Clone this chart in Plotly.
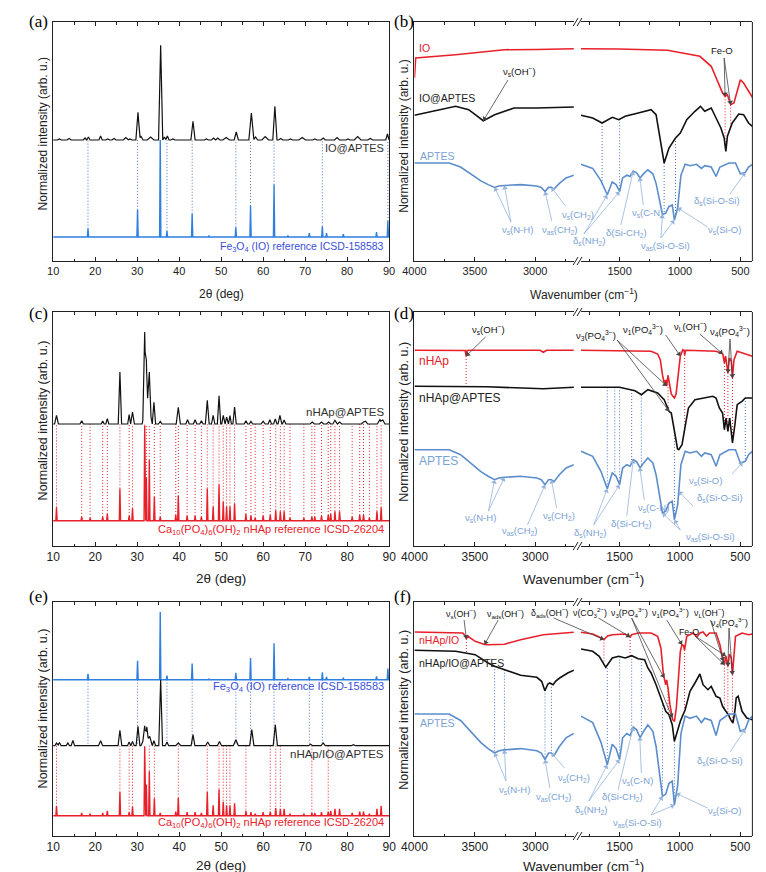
import numpy as np
import plotly.graph_objects as go

# ---------------- XRD reference patterns (2theta, relative intensity %) ----------------
io_ref_pos = [18.3, 30.1, 35.5, 37.1, 43.1, 47.1, 53.5, 57.0, 62.6, 65.9, 71.0, 74.1, 75.1, 79.1, 87.0, 89.7]
io_ref_rel = [8.6, 28, 100, 6, 24, 1, 10, 32, 54, 1.5, 4, 11, 4, 3, 5, 16.5]

hap_ref_pos = [10.8, 16.8, 18.8, 21.8, 22.9, 25.9, 28.1, 28.9, 31.8, 32.2, 32.9, 34.1, 35.5, 39.2, 39.8, 41.9,
               43.8, 45.3, 46.7, 48.1, 49.5, 50.5, 51.3, 52.1, 53.2, 55.9, 57.1, 58.1, 60.0, 61.7, 63.0, 64.1,
               65.0, 66.4, 69.7, 71.6, 72.3, 73.9, 75.5, 76.1, 77.1, 78.2, 81.2, 83.0, 83.9, 85.3, 87.1, 88.1]
hap_ref_rel = [14, 4, 3, 4, 7, 34, 5, 13, 100, 45, 64, 25, 4, 6, 26, 5,
               5, 4, 34, 15, 38, 20, 15, 15, 18, 7, 5, 3, 5, 6, 11, 10,
               10, 3, 3, 4, 4, 5, 6, 7, 10, 10, 4, 6, 6, 3, 10, 14]

# ---------------- measured XRD: peak position, height above baseline, half width ----------------
a_pk_pos = [11.5, 13.8, 17.6, 18.4, 21.3, 23.0, 24.5, 27.3, 28.3, 30.2, 30.9, 33.2, 35.6, 36.5, 37.2, 38.5,
            43.3, 46.5, 48.2, 49.2, 51.2, 53.6, 57.2, 58.2, 60.5, 62.8, 64.2, 66.5, 69.3, 72.3, 74.3, 77.6,
            80.2, 82.5, 85.5, 89.6]
a_pk_h = [1, 1.5, 2, 3, 4, 1, 1.5, 2.5, 1, 27.7, 4, 3, 94.7, 3, 4, 1,
          18.7, 1, 2, 2, 2.5, 8, 27, 3, 3.5, 33.7, 1.5, 1, 2.5, 1, 2, 2.5,
          1, 3.5, 1.5, 6]
a_pk_w = [0.5, 0.5, 0.4, 0.4, 0.4, 0.5, 0.5, 0.6, 0.5, 0.5, 0.5, 0.8, 0.5, 0.4, 0.4, 0.5,
          0.5, 0.5, 0.5, 0.5, 0.8, 0.5, 0.6, 0.5, 0.8, 0.5, 0.5, 0.5, 0.8, 0.5, 0.5, 0.6,
          0.5, 0.8, 0.6, 0.4]
a_io_marks = [18.3, 30.1, 37.1, 43.1, 53.5, 57.0, 62.6, 74.1, 89.7]

c_pk_pos = [10.8, 16.8, 21.8, 22.9, 25.9, 28.1, 28.9, 31.8, 32.2, 32.4, 32.9, 34.0, 35.5, 39.8, 42.0, 43.8,
            45.3, 46.7, 48.1, 49.5, 50.5, 51.3, 52.1, 53.2, 55.9, 57.1, 60.0, 61.6, 62.9, 64.0, 65.0, 71.7,
            73.9, 75.6, 77.1, 78.2, 83.9, 84.4, 87.8, 88.5]
c_pk_h = [8.7, 3.3, 3, 5.3, 52, 9.3, 12, 92, 64, 28, 52, 21.7, 2.7, 16.7, 4.3, 4.3,
          3.3, 23.7, 8.7, 28.3, 8.7, 7, 8.3, 17, 3.3, 2.7, 2.7, 4.3, 5, 8.7, 4, 2,
          2, 2, 3.7, 2, 2, 2.7, 4.3, 4]
c_pk_w = [0.45, 0.4, 0.35, 0.35, 0.4, 0.35, 0.45, 0.45, 0.3, 1.2, 0.4, 0.4, 0.4, 0.5, 0.4, 0.4,
          0.4, 0.45, 0.4, 0.4, 0.35, 0.35, 0.35, 0.4, 0.4, 0.4, 0.5, 0.4, 0.4, 0.45, 0.4, 0.5,
          0.5, 0.5, 0.5, 0.5, 0.5, 0.5, 0.6, 0.5]

e_pk_pos = [10.8, 11.5, 13.5, 14.7, 21.3, 25.9, 28.1, 28.9, 30.2, 31.8, 32.2, 32.3, 33.0, 34.0, 35.6, 37.1,
            39.8, 43.3, 46.8, 49.6, 53.5, 57.3, 62.9, 71.3, 74.3, 81.5]
e_pk_h = [2.7, 3.3, 2.7, 5.3, 5, 15.3, 3.7, 4.3, 19.3, 20, 12, 19, 9.3, 5, 66, 3.7,
          2.7, 11, 3.7, 4.3, 6, 16, 21, 1.5, 2.7, 1]
e_pk_w = [0.4, 0.4, 0.4, 0.4, 0.5, 0.45, 0.4, 0.4, 0.45, 0.45, 1.3, 0.4, 0.4, 0.4, 0.45, 0.4,
          0.6, 0.45, 0.5, 0.5, 0.6, 0.5, 0.5, 0.5, 0.5, 0.5]

e_io_marks = [18.3, 30.1, 37.1, 43.1, 53.5, 57.0, 62.6, 71.0, 74.1]
e_hap_marks = [10.8, 25.9, 28.1, 28.9, 32.9, 34.1, 39.8, 46.7, 49.5, 50.5, 51.3, 52.1, 55.9, 61.7, 63.0,
               64.1, 71.6, 75.5]

# ---------------- FTIR spectra (cm-1, plot units) ----------------
aptes_wn = [4000, 3712, 3618, 3524, 3450, 3390, 3336, 3300, 3255, 3121, 2987, 2950, 2919, 2890, 2866, 2845,
            2800, 2745, 2680,
            1820, 1723, 1655, 1602, 1561, 1529, 1500, 1475, 1440, 1413, 1387, 1360, 1330, 1306, 1266, 1225,
            1198, 1172, 1145, 1118, 1091, 1064, 1046, 1019, 992, 957, 917, 863, 822, 795, 741, 701, 669,
            594, 540, 500, 459, 432, 400]
aptes_t = [0, 0, -5, -15, -22, -26.6, -30, -28.3, -27.6, -26.6, -28.3, -30, -35, -30, -30, -32,
           -25, -18.3, -15,
           -1.6, -6.6, -21.6, -39, -23.3, -26.6, -35, -18.3, -15, -16.6, -10, -12, -18.3, -14, -8.3, -13.3,
           -25, -45, -63.3, -61.6, -53.3, -51.6, -70, -55, -15, -1.6, -3.3, -1.6, -6.6, -3.3, -5, -16.6, -5,
           0, 0, -13.3, -11.6, -5, -1.6]

io_wn = [4000, 3990, 3660, 3255, 2987, 2680, 1820, 1507, 1104, 835, 741, 688, 647, 626, 607, 580, 553,
         526, 499, 473, 432, 400]
io_v = [183, 203, 206.3, 211.3, 211.5, 212.3, 212.3, 212, 210.7, 204.7, 194.7, 179.7, 168, 164.7, 166.3,
        156.3, 158, 169.7, 181.3, 178, 169.7, 163.7]

ioa_wn = [4000, 3793, 3659, 3551, 3430, 3336, 3175, 2987, 2680, 1820, 1723, 1645, 1561, 1507, 1454, 1346,
          1239, 1198, 1172, 1131, 1091, 1037, 997, 944, 876, 830, 795, 741, 701, 661, 634, 620, 607, 567,
          513, 473, 432, 400]
ioa_v = [145.7, 151.3, 154.7, 151.3, 140.3, 146.3, 153, 153, 154, 145.7, 143, 138, 143.7, 141.3, 144.7, 148,
         151.3, 146.3, 126.3, 98, 113, 123, 128, 141.3, 149.7, 154.7, 149.7, 153, 143, 133, 123, 109.7,
         124.7, 138, 147, 146.3, 138, 134.7]

hap_wn = [4000, 3600, 3580, 3572, 3564, 3540, 2960, 2933, 2905, 2680, 1820, 1346, 1239, 1185, 1163, 1145,
          1131, 1118, 1110, 1099, 1083, 1072, 1060, 1046, 1032, 1020, 1010, 997, 976, 966, 961, 955, 943,
          809, 701, 661, 645, 632, 622, 603, 590, 575, 565, 553, 526, 400]
hap_v = [195.7, 195.7, 195.5, 190, 195.5, 195.7, 195.7, 193.7, 195.7, 195.7, 195.7, 195.3, 194.7, 192,
         186.3, 171.3, 163, 166, 160, 170.7, 160, 152, 150, 148, 152, 165, 178, 190, 196.3, 195.5, 191,
         195.5, 195.7, 195.3, 194.7, 193, 192, 183, 190, 173, 188, 185, 168, 186, 194.7, 189.7]

hapa_wn = [4000, 3400, 2933, 2680, 1820, 1500, 1373, 1319, 1266, 1185, 1131, 1091, 1072, 1051, 1030, 1020,
           1010, 983, 957, 930, 876, 809, 728, 701, 674, 647, 632, 618, 603, 588, 565, 545, 526, 486, 459, 400]
hapa_v = [159.7, 159.2, 157.3, 158.7, 158.7, 158.7, 155.3, 151.3, 156.3, 153, 146.3, 134.7, 133, 118, 101.3,
          97, 96.3, 101.3, 119.7, 138, 146.3, 148, 149.7, 148, 138, 133, 116.3, 128, 114.7, 128, 103,
          121.3, 141.3, 144.7, 148, 148]

nio_wn = [4000, 3659, 3600, 3578, 3570, 3560, 3497, 3420, 3390, 3255, 3121, 2933, 2680, 1820, 1723, 1669,
          1645, 1630, 1600, 1561, 1454, 1420, 1413, 1400, 1346, 1239, 1185, 1158, 1137, 1118, 1110, 1099,
          1083, 1061, 1046, 1030, 1010, 997, 983, 970, 962, 955, 944, 890, 860, 835, 809, 780, 755, 701,
          669, 647, 632, 620, 603, 590, 575, 565, 553, 540, 486, 432, 400]
nio_v = [204, 203.7, 203, 200, 197, 200, 194.7, 191.5, 191.3, 191.8, 196.3, 201.3, 203.7, 203.7, 202, 199,
         197, 196.5, 200, 201.3, 202, 200, 199, 201.3, 203, 203, 199.7, 188, 161.3, 151.3, 156, 148,
         131.3, 116.3, 114.7, 128, 158, 184.7, 191.3, 190.5, 186, 190, 199.7, 203, 199, 203, 204, 200,
         203, 203, 191.3, 178, 171.3, 180, 169.7, 182, 178, 161.3, 178, 199.7, 203, 201.3, 202]

nia_wn = [4000, 3659, 3497, 3390, 3336, 3255, 3121, 2987, 2947, 2920, 2895, 2879, 2852, 2830, 2798, 2731,
          2680, 1820, 1723, 1669, 1615, 1561, 1507, 1454, 1400, 1346, 1293, 1266, 1239, 1198, 1158, 1118,
          1091, 1064, 1046, 1024, 997, 957, 917, 876, 835, 809, 768, 741, 701, 669, 647, 620, 599, 580,
          561, 545, 534, 518, 486, 446, 400]
nia_v = [185.7, 184.7, 181.3, 173, 169.7, 166.3, 160.7, 158.7, 154.7, 145.3, 152, 153, 151.3, 155, 158, 163,
         165.7, 187, 184.7, 179.7, 168.7, 178, 179.7, 178, 180.3, 177.3, 176.3, 168, 163, 151.3, 138, 124.7,
         121.3, 111.3, 94.7, 104.7, 114.7, 126.3, 144.7, 153, 162, 151.3, 146.3, 149.7, 139.7, 138, 129.7,
         124.7, 121.3, 116.3, 113, 125, 138, 139.7, 124.7, 118, 116.3]

# ---------------- geometry / style ----------------
W, H = 766, 872
ROW_TOP = [14, 304, 594]
ROW_BOT = [253, 538, 828]
XRD_PX = (33, 378)
FL_PX = (404, 567.7)
FR_PX = (575, 751)
WL = (4000, 2680)
WR = (1820, 400)

BLACK = '#111111'
RED = '#e8202a'
IO_BLUE = '#2f7fe0'
IO_TXT = '#3a4fd8'
APT = '#5b8dcc'
APT_TXT = '#7aa1d4'
APT_ARR = '#96b4dc'
DOT_BLUE = '#4a74c4'
AX = '#222222'
FONT = 'Liberation Sans, Arial, sans-serif'
DOT = '1px,2px'

fig = go.Figure()
annotations = []
shapes = []


def envelope(pos, h, w, base, lo=10, hi=90):
    xs = sorted({lo, hi} | {round(p + d * ww, 3) for p, ww in zip(pos, w) for d in (-1, 0, 1)})
    ys = []
    for x in xs:
        best = 0
        for p, hh, ww in zip(pos, h, w):
            if abs(x - p) < ww:
                best = max(best, hh * (1 - abs(x - p) / ww))
        ys.append(base + best)
    return xs, ys


def vlines(xs, y0, y1):
    X, Y = [], []
    for x, a, b in zip(xs, y0, y1):
        X += [x, x, None]
        Y += [a, b, None]
    return X, Y


def line(x, y, xa, ya, color, width=1.2, dash=None):
    fig.add_trace(go.Scatter(x=x, y=y, xaxis=xa, yaxis=ya, mode='lines', hoverinfo='skip',
                             line=dict(color=color, width=width, dash=dash)))


def paper(px, py):
    return px / W, 1 - py / H


def text(t, px, py, color, size, anchor='center', angle=0, family=FONT):
    x, y = paper(px, py)
    annotations.append(dict(text=t, x=x, y=y, xref='paper', yref='paper', xanchor=anchor, yanchor='middle',
                            showarrow=False, textangle=angle, font=dict(family=family, size=size, color=color)))


# ---------------- XRD panels ----------------
xrd_axes = [('x', 'y'), ('x2', 'y2'), ('x3', 'y3')]
ref_w = 0.15

# (a)
xa, ya = xrd_axes[0]
a_base, a_ref_base, a_ref_scale = 121, 24, 0.97
io_top = dict(zip(io_ref_pos, io_ref_rel))
X, Y = vlines(a_io_marks, [a_ref_base + io_top[p] * a_ref_scale for p in a_io_marks], [a_base] * len(a_io_marks))
line(X, Y, xa, ya, DOT_BLUE, 1, DOT)
x, y = envelope(a_pk_pos, a_pk_h, a_pk_w, a_base)
line(x, y, xa, ya, BLACK, 1.2)
x, y = envelope(io_ref_pos, [r * a_ref_scale for r in io_ref_rel], [ref_w] * len(io_ref_pos), a_ref_base)
line(x, y, xa, ya, IO_BLUE, 1.4)

# (c)
xa, ya = xrd_axes[1]
c_base, c_ref_base, c_ref_scale = 122, 25.3, 0.95
tops = [c_ref_base + r * c_ref_scale for r in hap_ref_rel]
X, Y = vlines(hap_ref_pos, tops, [c_base] * len(tops))
line(X, Y, xa, ya, RED, 1, DOT)
x, y = envelope(c_pk_pos, c_pk_h, c_pk_w, c_base)
line(x, y, xa, ya, BLACK, 1.2)
x, y = envelope(hap_ref_pos, [r * c_ref_scale for r in hap_ref_rel], [ref_w] * len(hap_ref_pos), c_ref_base)
line(x, y, xa, ya, RED, 1.4)

# (e)
xa, ya = xrd_axes[2]
e_base, e_io_base, e_io_scale, e_hap_base, e_hap_scale = 90.3, 156.3, 0.677, 20.3, 0.694
X, Y = vlines(e_io_marks, [e_io_base] * len(e_io_marks), [e_base + 2] * len(e_io_marks))
line(X, Y, xa, ya, DOT_BLUE, 1, DOT)
hap_top = dict(zip(hap_ref_pos, hap_ref_rel))
X, Y = vlines(e_hap_marks, [e_base] * len(e_hap_marks),
              [e_hap_base + hap_top[p] * e_hap_scale for p in e_hap_marks])
line(X, Y, xa, ya, RED, 1, DOT)
x, y = envelope(io_ref_pos, [r * e_io_scale for r in io_ref_rel], [ref_w] * len(io_ref_pos), e_io_base)
line(x, y, xa, ya, IO_BLUE, 1.4)
x, y = envelope(e_pk_pos, e_pk_h, e_pk_w, e_base)
line(x, y, xa, ya, BLACK, 1.2)
x, y = envelope(hap_ref_pos, [r * e_hap_scale for r in hap_ref_rel], [ref_w] * len(hap_ref_pos), e_hap_base)
line(x, y, xa, ya, RED, 1.4)

# XRD labels
fe_lbl = 'Fe<sub>3</sub>O<sub>4</sub> (IO) reference ICSD-158583'
ca_lbl = 'Ca<sub>10</sub>(PO<sub>4</sub>)<sub>6</sub>(OH)<sub>2</sub> nHAp reference ICSD-26204'
text('IO@APTES', 375, 140, '#333', 11, 'right')
text(fe_lbl, 375, 239, IO_TXT, 10.5, 'right')
text('nHAp@APTES', 375, 404, '#333', 11.5, 'right')
text(ca_lbl, 375, 522, RED, 11, 'right')
text(fe_lbl, 375, 679, IO_TXT, 11, 'right')
text('nHAp/IO@APTES', 375, 746, '#333', 11.5, 'right')
text(ca_lbl, 375, 815, RED, 11, 'right')

# ---------------- FTIR panels ----------------
aptes_t_a = np.array(aptes_t, float)
curves = [
    {'io': (io_wn, io_v), 'ioa': (ioa_wn, ioa_v),
     'ap': (aptes_wn, list(98 + 0.814 * aptes_t_a))},
    {'hap': (hap_wn, hap_v), 'hapa': (hapa_wn, hapa_v),
     'ap': (aptes_wn, list(96.3 + 1.0 * aptes_t_a))},
    {'nio': (nio_wn, nio_v), 'nia': (nia_wn, nia_v),
     'ap': (aptes_wn, list(122 + 1.3 * aptes_t_a))},
]
colors = [{'io': RED, 'ioa': BLACK, 'ap': APT},
          {'hap': RED, 'hapa': BLACK, 'ap': APT},
          {'nio': RED, 'nia': BLACK, 'ap': APT}]


def ax_names(r):
    return f'x{4 + 2 * r}', f'x{5 + 2 * r}', f'y{4 + r}'


def wn_px(wn):
    if wn > 2200:
        return FL_PX[0] + (WL[0] - wn) / (WL[0] - WL[1]) * (FL_PX[1] - FL_PX[0])
    return FR_PX[0] + (WR[0] - wn) / (WR[0] - WR[1]) * (FR_PX[1] - FR_PX[0])


def px_wn(px, left):
    if left:
        return WL[0] - (px - FL_PX[0]) / (FL_PX[1] - FL_PX[0]) * (WL[0] - WL[1])
    return WR[0] - (px - FR_PX[0]) / (FR_PX[1] - FR_PX[0]) * (WR[0] - WR[1])


def at(r, name, wn):
    w, v = curves[r][name]
    return float(np.interp(wn, np.array(w, float)[::-1], np.array(v, float)[::-1]))


dotted = [
    ([('io', 'ioa', w) for w in [626, 580]], [('ioa', 'ap', w) for w in [1645, 1500, 1131, 1037]]),
    ([('hap', 'hapa', w) for w in [3572, 1099, 961, 632, 603, 565]],
     [('hapa', 'ap', w) for w in [1602, 1540, 1500, 1400, 1320, 1046, 459]]),
    ([('nio', 'nia', w) for w in [3570, 1630, 1413, 1099, 962, 632, 603, 565]],
     [('nia', 'ap', w) for w in [3336, 3255, 2919, 2866, 1602, 1500, 1400, 1320, 1145, 1046]]),
]

for r in range(3):
    xl, xr, yy = ax_names(r)
    for group, col in zip(dotted[r], [RED, DOT_BLUE]):
        for side, xa in ((True, xl), (False, xr)):
            sel = [g for g in group if (g[2] > 2200) == side]
            if not sel:
                continue
            X, Y = vlines([g[2] for g in sel], [at(r, g[0], g[2]) for g in sel], [at(r, g[1], g[2]) for g in sel])
            line(X, Y, xa, yy, col, 1, DOT)
    for name, (w, v) in curves[r].items():
        w = np.array(w, float)
        v = np.array(v, float)
        m = w > 2200
        line(w[m], v[m], xl, yy, colors[r][name], 1.6)
        line(w[~m], v[~m], xr, yy, colors[r][name], 1.6)

# labels with arrows: (text, px, py, color, heads, tail)
nu = 'ν'
dl = 'δ'
ftir_labels = [
    [
        (f'{nu}<sub>s</sub>(OH<sup>−</sup>)', 512, 63, BLACK, [('ioa', 3430)], (500, 72)),
        ('Fe-O', 720, 43, BLACK, [('io', 626), ('io', 580)], (722, 50)),
        (f'{nu}<sub>s</sub>(N-H)', 510, 222, APT_TXT, [('ap', 3336), ('ap', 3255)], (503, 214)),
        (f'{nu}<sub>as</sub>(CH<sub>2</sub>)', 553, 222, APT_TXT, [('ap', 2919)], (545, 213)),
        (f'{nu}<sub>s</sub>(CH<sub>2</sub>)', 572, 207, APT_TXT, [('ap', 2866)], (559, 198)),
        (f'{dl}<sub>s</sub>(NH<sub>2</sub>)', 583, 233, APT_TXT, [('ap', 1602), ('ap', 1500)], (578, 226)),
        (f'{dl}(Si-CH<sub>2</sub>)', 622, 225, APT_TXT, [('ap', 1387)], (616, 217)),
        (f'{nu}<sub>s</sub>(C-N)', 643, 205, APT_TXT, [('ap', 1333)], (639, 197)),
        (f'{nu}<sub>as</sub>(Si-O-Si)', 662, 238, APT_TXT, [('ap', 1145), ('ap', 1046)], (657, 230)),
        (f'{nu}<sub>s</sub>(Si-O)', 722, 222, APT_TXT, [('ap', 1019)], (705, 219)),
        (f'{dl}<sub>s</sub>(Si-O-Si)', 715, 193, APT_TXT, [('ap', 459)], (728, 186)),
    ],
    [
        (f'{nu}<sub>s</sub>(OH<sup>−</sup>)', 480, 322, BLACK, [('hap', 3572)], (477, 329)),
        (f'{nu}<sub>3</sub>(PO<sub>4</sub><sup>3−</sup>)', 590, 327, BLACK, [('hap', 1110), ('hapa', 1091)], (612, 332)),
        (f'{nu}<sub>1</sub>(PO<sub>4</sub><sup>3−</sup>)', 639, 322, BLACK, [('hap', 997)], (662, 327)),
        (f'{nu}<sub>L</sub>(OH<sup>−</sup>)', 687, 318, BLACK, [('hap', 645)], (697, 326)),
        (f'{nu}<sub>4</sub>(PO<sub>4</sub><sup>3−</sup>)', 728, 323, BLACK, [('hap', 603), ('hap', 565)], (728, 331)),
        (f'{nu}<sub>s</sub>(N-H)', 472, 510, APT_TXT, [('ap', 3336), ('ap', 3255)], (480, 503)),
        (f'{nu}<sub>as</sub>(CH<sub>2</sub>)', 512, 523, APT_TXT, [('ap', 2919)], (520, 517)),
        (f'{nu}<sub>s</sub>(CH<sub>2</sub>)', 552, 508, APT_TXT, [('ap', 2866)], (550, 500)),
        (f'{dl}<sub>s</sub>(NH<sub>2</sub>)', 584, 525, APT_TXT, [('ap', 1602), ('ap', 1500)], (588, 517)),
        (f'{dl}(Si-CH<sub>2</sub>)', 627, 516, APT_TXT, [('ap', 1387)], (622, 508)),
        (f'{nu}<sub>s</sub>(C-N)', 649, 500, APT_TXT, [('ap', 1333)], (640, 492)),
        (f'{nu}<sub>as</sub>(Si-O-Si)', 708, 529, APT_TXT, [('ap', 1145), ('ap', 1046)], (677, 522)),
        (f'{nu}<sub>s</sub>(Si-O)', 703, 473, APT_TXT, [('ap', 480)], (730, 466)),
        (f'{dl}<sub>s</sub>(Si-O-Si)', 718, 490, APT_TXT, [('ap', 1010)], (690, 498)),
    ],
    [
        (f'{nu}<sub>s</sub>(OH<sup>−</sup>)', 452, 605, BLACK, [('nio', 3570)], (455, 612)),
        (f'{nu}<sub>ads</sub>(OH<sup>−</sup>)', 497, 605, BLACK, [('nio', 3420)], (490, 612)),
        (f'{dl}<sub>ads</sub>(OH<sup>−</sup>)', 543, 604, BLACK, [('nio', 1630)], (547, 610)),
        (f'{nu}(CO<sub>3</sub><sup>2−</sup>)', 584, 604, BLACK, [('nio', 1413)], (593, 610)),
        (f'{nu}<sub>3</sub>(PO<sub>4</sub><sup>3−</sup>)', 625, 604, BLACK, [('nio', 1131), ('nio', 1064)], (627, 610)),
        (f'{nu}<sub>1</sub>(PO<sub>4</sub><sup>3−</sup>)', 667, 604, BLACK, [('nio', 983)], (663, 612)),
        (f'{nu}<sub>L</sub>(OH<sup>−</sup>)', 707, 604, BLACK, [('nio', 640)], (708, 612)),
        ('Fe-O', 686, 624, BLACK, [('nio', 632), ('nio', 620)], (692, 628)),
        (f'{nu}<sub>4</sub>(PO<sub>4</sub><sup>3−</sup>)', 728, 614, BLACK, [('nio', 603), ('nio', 565)], (727, 620)),
        (f'{nu}<sub>s</sub>(N-H)', 507, 782, APT_TXT, [('ap', 3336), ('ap', 3255)], (498, 773)),
        (f'{nu}<sub>as</sub>(CH<sub>2</sub>)', 547, 789, APT_TXT, [('ap', 2919)], (543, 780)),
        (f'{nu}<sub>s</sub>(CH<sub>2</sub>)', 568, 770, APT_TXT, [('ap', 2866)], (558, 760)),
        (f'{dl}<sub>s</sub>(NH<sub>2</sub>)', 585, 802, APT_TXT, [('ap', 1602), ('ap', 1500)], (583, 793)),
        (f'{dl}(Si-CH<sub>2</sub>)', 618, 789, APT_TXT, [('ap', 1387)], (613, 782)),
        (f'{nu}<sub>s</sub>(C-N)', 633, 773, APT_TXT, [('ap', 1333)], (637, 765)),
        (f'{nu}<sub>as</sub>(Si-O-Si)', 633, 815, APT_TXT, [('ap', 1145), ('ap', 1046)], (647, 807)),
        (f'{nu}<sub>s</sub>(Si-O)', 722, 803, APT_TXT, [('ap', 1030)], (705, 800)),
        (f'{dl}<sub>s</sub>(Si-O-Si)', 718, 753, APT_TXT, [('ap', 459)], (728, 744)),
    ],
]

# arrows: shaft as a paper-space line, head as a rotated triangle marker on the data axes
for r in range(3):
    xl, xr, yy = ax_names(r)
    fs = 8.8 if r == 2 else 9.5
    heads_by_side = {True: ([], [], [], []), False: ([], [], [], [])}
    for t, px, py, col, heads, tail in ftir_labels[r]:
        text(t, px, py, col, fs if col == BLACK else 9.5)
        arr_col = '#444444' if col == BLACK else APT_ARR
        for name, wn in heads:
            val = at(r, name, wn)
            hx, hy = wn_px(wn), ROW_BOT[r] - val
            dx, dy = hx - tail[0], hy - tail[1]
            n = max(np.hypot(dx, dy), 1e-6)
            ux, uy = dx / n, dy / n
            cx, cy = hx - 2.5 * ux, hy - 2.5 * uy
            x0, y0 = paper(*tail)
            x1, y1 = paper(hx - 3 * ux, hy - 3 * uy)
            shapes.append(dict(type='line', xref='paper', yref='paper', x0=x0, y0=y0, x1=x1, y1=y1,
                               line=dict(color=arr_col, width=0.8)))
            left = wn > 2200
            hxs, hys, angs, cols = heads_by_side[left]
            hxs.append(px_wn(cx, left))
            hys.append(ROW_BOT[r] - cy)
            angs.append(float(np.degrees(np.arctan2(ux, -uy))))
            cols.append(arr_col)
    for left, xa in ((True, xl), (False, xr)):
        hxs, hys, angs, cols = heads_by_side[left]
        if hxs:
            fig.add_trace(go.Scatter(x=hxs, y=hys, xaxis=xa, yaxis=yy, mode='markers', hoverinfo='skip',
                                     cliponaxis=False,
                                     marker=dict(symbol='triangle-up', size=5, angle=angs, color=cols,
                                                 line=dict(width=0))))

# curve names on FTIR panels
text('IO', 407, 40, RED, 10.5, 'left')
text('IO@APTES', 407, 90, '#222', 10.5, 'left')
text('APTES', 408, 148, APT_TXT, 10.5, 'left')
text('nHAp', 407, 353, RED, 12, 'left')
text('nHAp@APTES', 407, 390, '#222', 12, 'left')
text('APTES', 407, 453, APT_TXT, 12, 'left')
text('nHAp/IO', 407, 632, RED, 10.5, 'left')
text('nHAp/IO@APTES', 407, 655, '#222', 10.5, 'left')
text('APTES', 408, 715, APT_TXT, 10.5, 'left')

# axis titles and panel letters
ytitle = 'Normalized intensity (arb. u.)'
for r, (cy, fs) in enumerate([(126, 12), (412, 12.5), (700, 12.5)]):
    text(ytitle, 23, cy, AX, fs, angle=-90)
    text(ytitle, 393, cy + 2, AX, fs, angle=-90)
for r, (ty, fs) in enumerate([(286, 12), (570, 13.5), (857, 13.5)]):
    text('2θ (deg)', (XRD_PX[0] + XRD_PX[1]) / 2, ty, AX, fs)
    text('Wavenumber (cm<sup>−1</sup>)', 578, ty, AX, fs)
for r, letters in enumerate([('(a)', '(b)'), ('(c)', '(d)'), ('(e)', '(f)')]):
    yl = [14, 305, 588][r]
    text(letters[0], 6, yl, 'black', 17, 'left', family='Liberation Serif, Times New Roman, serif')
    text(letters[1], 381, yl, 'black', 17, 'left', family='Liberation Serif, Times New Roman, serif')

# ---------------- axes ----------------
layout_axes = {}
tickfont_sizes = [11, 12, 12]


def xaxis_style(r, dom, rng, dtick, minor, anchor):
    return dict(domain=[dom[0] / W, dom[1] / W], range=rng, anchor=anchor, showline=True, mirror='allticks',
                linecolor=AX, linewidth=1, ticks='inside', ticklen=4, tickwidth=1, tickcolor=AX,
                tick0=0, dtick=dtick, minor=dict(dtick=minor, ticks='inside', ticklen=2.5, tickcolor=AX),
                tickfont=dict(family=FONT, size=tickfont_sizes[r], color=AX), showgrid=False, zeroline=False)


def yaxis_style(r, anchor, mirror):
    return dict(domain=[1 - ROW_BOT[r] / H, 1 - ROW_TOP[r] / H], range=[0, ROW_BOT[r] - ROW_TOP[r]],
                anchor=anchor, showline=True, mirror=mirror, linecolor=AX, linewidth=1, ticks='',
                showticklabels=False, showgrid=False, zeroline=False)


for r in range(3):
    xk = 'xaxis' if r == 0 else f'xaxis{r + 1}'
    yk = 'yaxis' if r == 0 else f'yaxis{r + 1}'
    xa, ya = xrd_axes[r]
    layout_axes[xk] = xaxis_style(r, XRD_PX, [10, 90], 10, 5, ya)
    layout_axes[yk] = yaxis_style(r, xa, True)
    xl, xr, yy = ax_names(r)
    layout_axes[f'xaxis{4 + 2 * r}'] = xaxis_style(r, FL_PX, list(WL), 500, 250, yy)
    layout_axes[f'xaxis{5 + 2 * r}'] = xaxis_style(r, FR_PX, list(WR), 500, 250, yy)
    layout_axes[f'yaxis{4 + r}'] = yaxis_style(r, xl, False)
    # right frame edge of the broken FTIR axis
    x0, y0 = paper(FR_PX[1], ROW_BOT[r])
    x1, y1 = paper(FR_PX[1], ROW_TOP[r])
    shapes.append(dict(type='line', xref='paper', yref='paper', x0=x0, x1=x1, y0=y0, y1=y1,
                       line=dict(color=AX, width=1)))
    # break marks
    for by in (ROW_BOT[r], ROW_TOP[r]):
        for cx in (569.5, 573.5):
            a0, b0 = paper(cx - 2.5, by + 4)
            a1, b1 = paper(cx + 2.5, by - 4)
            shapes.append(dict(type='line', xref='paper', yref='paper', x0=a0, y0=b0, x1=a1, y1=b1,
                               line=dict(color=AX, width=1)))

fig.update_layout(width=W, height=H, margin=dict(l=0, r=0, t=0, b=0), paper_bgcolor='white',
                  plot_bgcolor='white', showlegend=False, font=dict(family=FONT, color=AX),
                  annotations=annotations, shapes=shapes, **layout_axes)

fig.write_html('out.html')
